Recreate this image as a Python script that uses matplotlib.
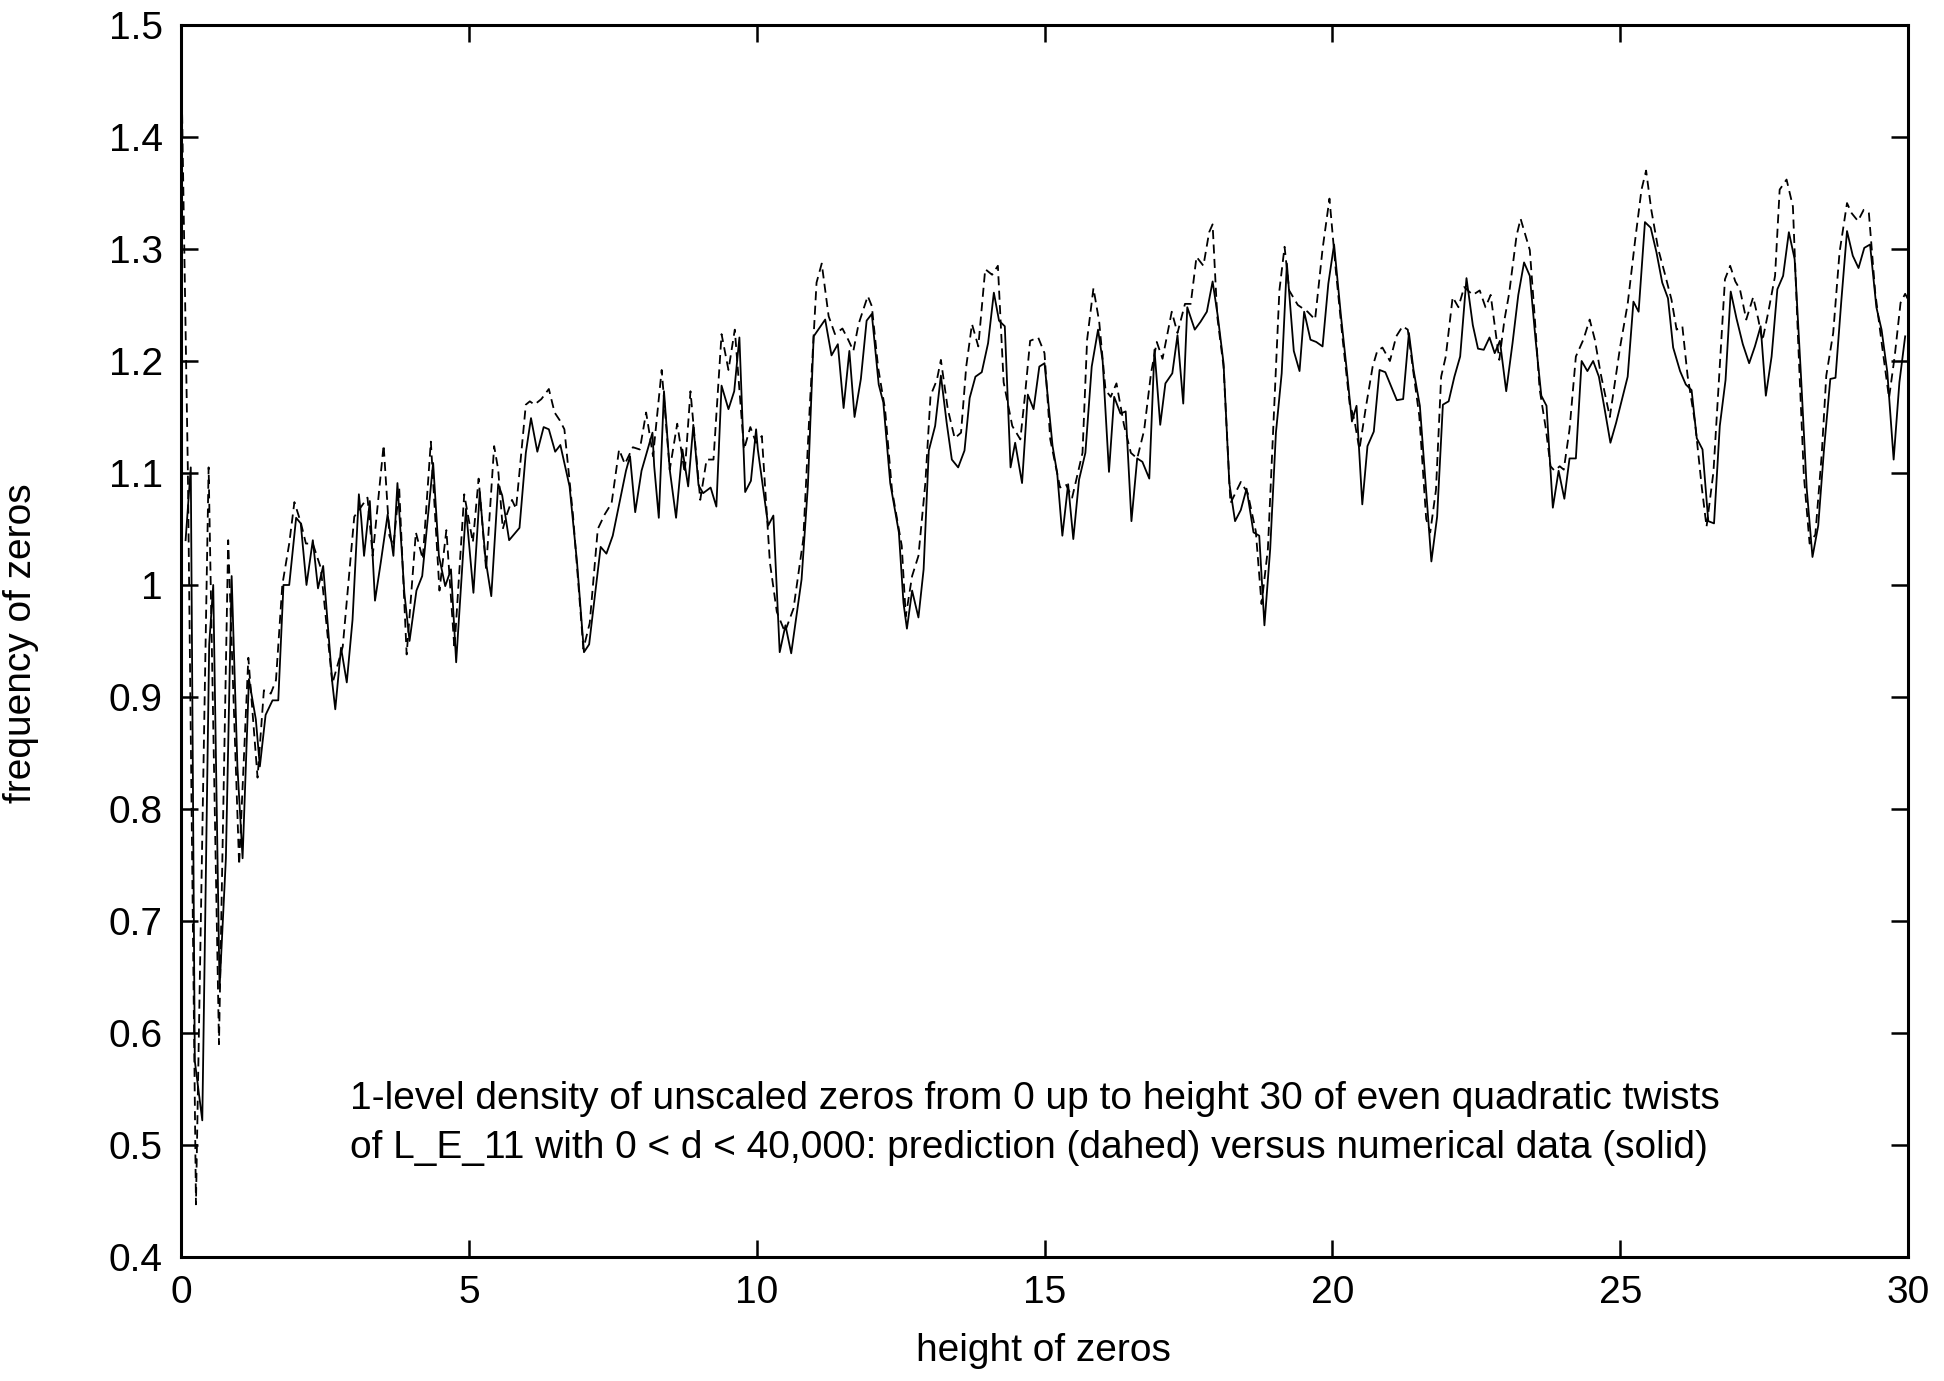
import matplotlib
matplotlib.use("Agg")
import matplotlib.pyplot as plt

# numerical data (solid line)
solid_x = [0.08, 0.17, 0.24, 0.37, 0.49, 0.56, 0.67, 0.78, 0.88, 0.98, 1.07, 1.18, 1.30, 1.37, 1.47,
           1.59, 1.69, 1.78, 1.88, 2.00, 2.08, 2.18, 2.29, 2.38, 2.47, 2.63, 2.68, 2.78, 2.88, 2.98,
           3.09, 3.13, 3.18, 3.28, 3.37, 3.47, 3.59, 3.69, 3.76, 3.88, 3.97, 4.09, 4.19, 4.38, 4.48,
           4.59, 4.69, 4.78, 4.95, 5.08, 5.19, 5.29, 5.39, 5.51, 5.58, 5.70, 5.88, 5.99, 6.08, 6.19,
           6.30, 6.39, 6.50, 6.59, 6.75, 6.88, 7.00, 7.09, 7.29, 7.39, 7.50, 7.73, 7.80, 7.89, 8.00,
           8.19, 8.22, 8.30, 8.39, 8.49, 8.60, 8.71, 8.81, 8.90, 8.99, 9.07, 9.20, 9.30, 9.39, 9.51,
           9.61, 9.70, 9.80, 9.90, 9.99, 10.02, 10.20, 10.29, 10.40, 10.50, 10.60, 10.78, 10.89, 10.99, 11.19,
           11.30, 11.41, 11.51, 11.61, 11.70, 11.81, 11.91, 12.00, 12.12, 12.20, 12.32, 12.47, 12.55, 12.61, 12.70,
           12.81, 12.90, 12.99, 13.10, 13.20, 13.30, 13.39, 13.50, 13.61, 13.70, 13.80, 13.91, 14.02, 14.12, 14.21,
           14.31, 14.41, 14.49, 14.61, 14.71, 14.81, 14.91, 15.00, 15.14, 15.22, 15.31, 15.41, 15.50, 15.60, 15.71,
           15.82, 15.93, 16.01, 16.12, 16.21, 16.32, 16.41, 16.51, 16.61, 16.70, 16.82, 16.91, 17.01, 17.10, 17.22,
           17.31, 17.41, 17.48, 17.61, 17.71, 17.82, 17.92, 18.01, 18.11, 18.21, 18.31, 18.41, 18.51, 18.63, 18.73,
           18.82, 18.92, 19.02, 19.12, 19.21, 19.33, 19.43, 19.51, 19.62, 19.72, 19.83, 19.93, 20.03, 20.15, 20.25,
           20.34, 20.42, 20.52, 20.61, 20.72, 20.82, 20.92, 21.12, 21.23, 21.33, 21.41, 21.52, 21.62, 21.72, 21.82,
           21.92, 22.02, 22.12, 22.22, 22.33, 22.44, 22.53, 22.63, 22.73, 22.82, 22.91, 23.02, 23.13, 23.23, 23.33,
           23.43, 23.53, 23.63, 23.72, 23.83, 23.93, 24.03, 24.12, 24.23, 24.33, 24.43, 24.53, 24.63, 24.73, 24.83,
           24.93, 25.13, 25.23, 25.32, 25.43, 25.53, 25.63, 25.73, 25.83, 25.92, 26.04, 26.14, 26.24, 26.33, 26.43,
           26.53, 26.63, 26.73, 26.83, 26.92, 27.02, 27.13, 27.24, 27.34, 27.44, 27.53, 27.63, 27.73, 27.83, 27.93,
           28.03, 28.14, 28.24, 28.34, 28.44, 28.54, 28.65, 28.74, 28.84, 28.94, 29.04, 29.14, 29.24, 29.34, 29.45,
           29.54, 29.64, 29.75, 29.85, 29.95]
solid_y = [1.040, 1.105, 0.575, 0.522, 0.947, 1.000, 0.640, 0.756, 1.008, 0.838, 0.756, 0.916, 0.880, 0.838, 0.884,
           0.897, 0.897, 1.000, 1.000, 1.060, 1.055, 1.000, 1.040, 0.997, 1.017, 0.912, 0.889, 0.944, 0.913, 0.969,
           1.081, 1.060, 1.026, 1.075, 0.986, 1.020, 1.063, 1.026, 1.091, 0.993, 0.950, 0.995, 1.008, 1.109, 1.026,
           0.999, 1.014, 0.931, 1.068, 0.993, 1.083, 1.023, 0.990, 1.090, 1.080, 1.040, 1.051, 1.118, 1.149, 1.119,
           1.141, 1.139, 1.119, 1.125, 1.088, 1.020, 0.940, 0.947, 1.034, 1.028, 1.044, 1.102, 1.115, 1.065, 1.102,
           1.136, 1.106, 1.060, 1.173, 1.103, 1.060, 1.121, 1.088, 1.143, 1.089, 1.082, 1.087, 1.070, 1.178, 1.157,
           1.173, 1.221, 1.083, 1.093, 1.139, 1.121, 1.053, 1.062, 0.940, 0.964, 0.939, 1.005, 1.089, 1.222, 1.237,
           1.205, 1.215, 1.158, 1.209, 1.150, 1.184, 1.236, 1.242, 1.179, 1.163, 1.091, 1.047, 0.984, 0.961, 0.995,
           0.971, 1.014, 1.120, 1.142, 1.187, 1.145, 1.112, 1.105, 1.120, 1.167, 1.186, 1.190, 1.216, 1.261, 1.236,
           1.231, 1.105, 1.127, 1.091, 1.170, 1.157, 1.195, 1.198, 1.124, 1.100, 1.044, 1.090, 1.041, 1.094, 1.118,
           1.195, 1.228, 1.200, 1.101, 1.168, 1.153, 1.155, 1.057, 1.113, 1.110, 1.095, 1.210, 1.143, 1.180, 1.189,
           1.223, 1.162, 1.248, 1.228, 1.235, 1.244, 1.271, 1.240, 1.198, 1.091, 1.057, 1.067, 1.086, 1.047, 1.044,
           0.964, 1.032, 1.136, 1.189, 1.287, 1.209, 1.191, 1.244, 1.219, 1.217, 1.213, 1.269, 1.304, 1.240, 1.192,
           1.146, 1.160, 1.072, 1.124, 1.137, 1.192, 1.190, 1.165, 1.166, 1.225, 1.192, 1.160, 1.091, 1.021, 1.061,
           1.161, 1.164, 1.186, 1.204, 1.274, 1.232, 1.211, 1.210, 1.221, 1.207, 1.218, 1.173, 1.216, 1.259, 1.288,
           1.276, 1.219, 1.169, 1.160, 1.069, 1.102, 1.077, 1.113, 1.113, 1.200, 1.191, 1.200, 1.186, 1.157, 1.127,
           1.145, 1.186, 1.253, 1.244, 1.324, 1.319, 1.297, 1.270, 1.256, 1.212, 1.191, 1.179, 1.174, 1.131, 1.121,
           1.057, 1.055, 1.142, 1.183, 1.262, 1.238, 1.215, 1.198, 1.213, 1.231, 1.169, 1.204, 1.264, 1.276, 1.315,
           1.291, 1.187, 1.086, 1.025, 1.053, 1.121, 1.184, 1.185, 1.253, 1.316, 1.294, 1.283, 1.301, 1.304, 1.248,
           1.228, 1.190, 1.112, 1.181, 1.222]

# prediction (dashed line)
dashed_x = [0.02, 0.12, 0.26, 0.48, 0.66, 0.82, 1.01, 1.17, 1.33, 1.44, 1.56, 1.65, 1.76, 1.88, 1.97,
            2.08, 2.17, 2.29, 2.43, 2.63, 2.81, 3.01, 3.24, 3.33, 3.52, 3.62, 3.69, 3.79, 3.92, 4.08,
            4.20, 4.34, 4.49, 4.61, 4.75, 4.92, 5.07, 5.17, 5.30, 5.44, 5.51, 5.59, 5.66, 5.75, 5.82,
            5.99, 6.06, 6.14, 6.26, 6.39, 6.49, 6.58, 6.66, 6.81, 6.99, 7.10, 7.24, 7.36, 7.48, 7.61,
            7.71, 7.85, 7.97, 8.08, 8.20, 8.35, 8.49, 8.62, 8.75, 8.85, 9.02, 9.13, 9.25, 9.39, 9.51,
            9.62, 9.78, 9.89, 9.99, 10.09, 10.23, 10.35, 10.49, 10.64, 10.81, 10.92, 11.04, 11.13, 11.25, 11.36,
            11.49, 11.59, 11.68, 11.77, 11.93, 12.00, 12.11, 12.23, 12.35, 12.52, 12.59, 12.70, 12.81, 12.93, 13.02,
            13.13, 13.20, 13.32, 13.44, 13.55, 13.64, 13.74, 13.85, 13.97, 14.09, 14.19, 14.29, 14.44, 14.58, 14.66,
            14.75, 14.89, 15.00, 15.10, 15.27, 15.37, 15.48, 15.66, 15.74, 15.85, 15.95, 16.06, 16.15, 16.25, 16.38,
            16.50, 16.61, 16.73, 16.85, 16.95, 17.05, 17.21, 17.31, 17.44, 17.54, 17.64, 17.76, 17.86, 17.92, 18.00,
            18.11, 18.23, 18.41, 18.53, 18.67, 18.77, 18.88, 18.99, 19.08, 19.17, 19.25, 19.40, 19.57, 19.70, 19.83,
            19.95, 20.06, 20.18, 20.30, 20.38, 20.47, 20.58, 20.70, 20.78, 20.87, 21.00, 21.11, 21.22, 21.31, 21.41,
            21.51, 21.63, 21.70, 21.80, 21.89, 21.97, 22.09, 22.19, 22.29, 22.44, 22.56, 22.66, 22.75, 22.90, 22.99,
            23.07, 23.20, 23.27, 23.43, 23.51, 23.60, 23.71, 23.79, 23.86, 23.95, 24.02, 24.12, 24.23, 24.36, 24.47,
            24.56, 24.66, 24.82, 25.00, 25.13, 25.26, 25.37, 25.45, 25.54, 25.66, 25.77, 25.89, 25.98, 26.08, 26.17,
            26.30, 26.42, 26.50, 26.62, 26.72, 26.82, 26.91, 27.00, 27.08, 27.19, 27.31, 27.40, 27.47, 27.57, 27.69,
            27.77, 27.89, 28.00, 28.09, 28.19, 28.29, 28.39, 28.50, 28.58, 28.70, 28.81, 28.94, 29.02, 29.13, 29.23,
            29.32, 29.43, 29.55, 29.67, 29.77, 29.87, 29.95, 30.00]
dashed_y = [1.420, 1.100, 0.447, 1.105, 0.590, 1.040, 0.750, 0.935, 0.828, 0.906, 0.903, 0.915, 1.000, 1.037, 1.074,
            1.056, 1.037, 1.037, 1.015, 0.912, 0.945, 1.061, 1.078, 1.026, 1.125, 1.044, 1.035, 1.087, 0.938, 1.047,
            1.023, 1.128, 0.995, 1.049, 0.943, 1.081, 1.038, 1.095, 1.014, 1.124, 1.103, 1.050, 1.063, 1.076, 1.068,
            1.161, 1.164, 1.161, 1.166, 1.175, 1.154, 1.147, 1.139, 1.062, 0.943, 0.966, 1.050, 1.063, 1.073, 1.121,
            1.108, 1.123, 1.121, 1.154, 1.115, 1.192, 1.103, 1.144, 1.100, 1.173, 1.076, 1.112, 1.112, 1.224, 1.192,
            1.228, 1.121, 1.141, 1.127, 1.133, 1.020, 0.976, 0.958, 0.979, 1.041, 1.157, 1.270, 1.287, 1.240, 1.224,
            1.229, 1.219, 1.209, 1.233, 1.258, 1.249, 1.194, 1.157, 1.085, 1.035, 0.972, 1.008, 1.026, 1.091, 1.169,
            1.183, 1.201, 1.157, 1.131, 1.136, 1.195, 1.233, 1.213, 1.282, 1.277, 1.285, 1.181, 1.142, 1.130, 1.169,
            1.218, 1.221, 1.207, 1.130, 1.087, 1.090, 1.078, 1.118, 1.219, 1.265, 1.235, 1.174, 1.168, 1.180, 1.143,
            1.118, 1.113, 1.138, 1.189, 1.217, 1.202, 1.244, 1.225, 1.251, 1.251, 1.293, 1.285, 1.315, 1.322, 1.240,
            1.195, 1.073, 1.092, 1.082, 1.048, 0.983, 1.032, 1.159, 1.263, 1.302, 1.263, 1.250, 1.244, 1.237, 1.300,
            1.345, 1.281, 1.219, 1.162, 1.148, 1.121, 1.158, 1.195, 1.209, 1.212, 1.200, 1.222, 1.231, 1.228, 1.189,
            1.151, 1.059, 1.047, 1.085, 1.186, 1.204, 1.257, 1.248, 1.266, 1.259, 1.263, 1.248, 1.259, 1.201, 1.237,
            1.260, 1.312, 1.327, 1.299, 1.243, 1.175, 1.139, 1.106, 1.102, 1.106, 1.103, 1.139, 1.204, 1.219, 1.237,
            1.219, 1.189, 1.150, 1.213, 1.251, 1.308, 1.353, 1.370, 1.335, 1.300, 1.279, 1.255, 1.228, 1.231, 1.187,
            1.145, 1.086, 1.052, 1.101, 1.187, 1.273, 1.285, 1.271, 1.264, 1.237, 1.257, 1.237, 1.218, 1.243, 1.276,
            1.353, 1.362, 1.338, 1.219, 1.098, 1.037, 1.045, 1.116, 1.187, 1.225, 1.297, 1.341, 1.332, 1.325, 1.335,
            1.332, 1.261, 1.213, 1.167, 1.205, 1.252, 1.260, 1.255]

x_ticks = [0, 5, 10, 15, 20, 25, 30]
y_ticks = [0.4, 0.5, 0.6, 0.7, 0.8, 0.9, 1.0, 1.1, 1.2, 1.3, 1.4, 1.5]
y_tick_labels = ["0.4", "0.5", "0.6", "0.7", "0.8", "0.9", "1", "1.1", "1.2", "1.3", "1.4", "1.5"]

note_lines = ["1-level density of unscaled zeros from 0 up to height 30 of even quadratic twists",
              "of L_E_11 with 0 < d < 40,000: prediction (dahed) versus numerical data (solid)"]

if __name__ == "__main__":
    plt.rcParams["font.family"] = ["Liberation Sans", "DejaVu Sans"]
    fs = 28

    fig = plt.figure(figsize=(19.44, 13.81), dpi=100)
    ax = fig.add_axes([0.0931, 0.0898, 0.8884, 0.8921])

    # two curves, gnuplot style
    ax.plot(dashed_x, dashed_y, color="black", linewidth=1.3, linestyle=(0, (5, 3)))
    ax.plot(solid_x, solid_y, color="black", linewidth=1.3)

    ax.set_xlim(0, 30)
    ax.set_ylim(0.4, 1.5)
    ax.set_xticks(x_ticks)
    ax.set_xticklabels([str(t) for t in x_ticks])
    ax.set_yticks(y_ticks)
    ax.set_yticklabels(y_tick_labels)
    ax.tick_params(direction="in", length=12, width=1.8, top=True, right=True,
                   labelsize=fs, pad=13)
    for spine in ax.spines.values():
        spine.set_linewidth(2.2)

    # axis titles placed on the figure
    fig.text(0.5365, 0.0217, "height of zeros", fontsize=fs, ha="center", va="center")
    fig.text(0.0108, 0.534, "frequency of zeros", fontsize=fs, ha="center", va="center",
             rotation=90)

    # caption inside the plot
    ax.text(2.94, 0.541, note_lines[0], fontsize=fs, va="center", ha="left")
    ax.text(2.94, 0.497, note_lines[1], fontsize=fs, va="center", ha="left")

    fig.savefig("out.png", dpi=100)
